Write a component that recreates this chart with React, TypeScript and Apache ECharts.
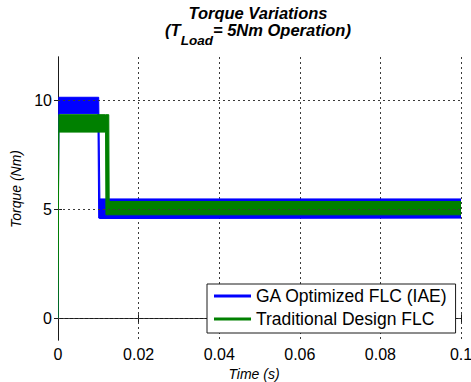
import React, { useEffect, useRef } from 'react';
import * as echarts from 'echarts';

const seriesNames = ['GA Optimized FLC (IAE)', 'Traditional Design FLC'];

// Envelope (upper / lower) of the rippling torque of each controller
const blueTime = [0, 0.0002, 0.0099, 0.0101, 0.0104, 0.1];
const blueUpper = [0, 10.15, 10.15, 10.15, 5.48, 5.48];
const blueLower = [0, 9.4, 9.4, 4.6, 4.58, 4.6];

const greenTime = [0, 0.0002, 0.0118, 0.0119, 0.0126, 0.0127, 0.1];
const greenUpper = [0, 9.35, 9.35, 9.35, 9.35, 5.36, 5.36];
const greenLower = [0, 8.55, 8.55, 4.75, 4.75, 4.75, 4.75];

const yTickValues = [0, 5, 10];
const xTickStep = 0.02;

const FONT = '"Liberation Sans", Arial, Helvetica, sans-serif';
const INK = '#000000';
const GRID = '#3a3a3a';

function bandSeries(name: string, color: string, time: number[], upper: number[], lower: number[], z: number) {
  return {
    type: 'custom',
    name,
    z,
    coordinateSystem: 'cartesian2d',
    xAxisIndex: 0,
    yAxisIndex: 0,
    clip: true,
    silent: true,
    itemStyle: { color },
    data: time.map((t, i) => [t, lower[i], upper[i]]),
    encode: { x: 0, y: [1, 2] },
    renderItem: (params: any, api: any) => {
      if (params.dataIndex !== 0) return null;
      const top = time.map((t, i) => api.coord([t, upper[i]]));
      const bottom = time.map((t, i) => api.coord([t, lower[i]])).reverse();
      return {
        type: 'polygon',
        shape: { points: top.concat(bottom) },
        style: { fill: color, stroke: color, lineWidth: 1 },
      };
    },
  };
}

export default function App() {
  const ref = useRef<HTMLDivElement>(null);
  useEffect(() => {
    if (!ref.current) return;
    const chart = echarts.init(ref.current, undefined, { renderer: 'svg' });
    const tickLabel = { color: INK, fontFamily: FONT, fontSize: 16 };
    chart.setOption({
      animation: false,
      backgroundColor: '#ffffff',
      title: {
        text: '{t|Torque Variations}\n{t|(T}{s|Load}{t|= 5Nm Operation)}',
        left: 258,
        textAlign: 'center',
        top: 4,
        padding: 0,
        textStyle: {
          rich: {
            t: { fontFamily: FONT, fontSize: 16.5, fontWeight: 'bold', fontStyle: 'italic', color: INK, lineHeight: 17, verticalAlign: 'top' },
            s: { fontFamily: FONT, fontSize: 13.5, fontWeight: 'bold', fontStyle: 'italic', color: INK, lineHeight: 13, verticalAlign: 'top', padding: [12, 0, 0, 0] },
          },
        },
      },
      legend: {
        orient: 'vertical',
        left: 207,
        top: 284,
        padding: [2, 8, 4, 7],
        itemGap: 3,
        itemWidth: 37,
        itemHeight: 3,
        icon: 'rect',
        selectedMode: false,
        borderColor: '#1a1a1a',
        borderWidth: 1,
        borderRadius: 0,
        backgroundColor: '#ffffff',
        textStyle: { color: INK, fontFamily: FONT, fontSize: 17.5, lineHeight: 20 },
        data: seriesNames.map((name) => ({ name })),
        z: 10,
      },
      grid: { left: 58, right: 10, top: 57, bottom: 42, containLabel: false, outerBoundsMode: 'none' },
      xAxis: [
        {
          type: 'value',
          position: 'bottom',
          min: 0,
          max: 0.1,
          interval: xTickStep,
          name: 'Time (s)',
          nameLocation: 'middle',
          nameGap: 23,
          nameTextStyle: { color: INK, fontFamily: FONT, fontSize: 14, fontStyle: 'italic', padding: [0, 11, 0, 0] },
          axisLine: { show: true, lineStyle: { color: '#1a1a1a', width: 1 } },
          axisTick: { show: true, inside: true, length: 4, lineStyle: { color: '#1a1a1a' } },
          axisLabel: { ...tickLabel, margin: 6, formatter: (v: number) => String(Math.round(v * 100) / 100) },
          splitLine: { show: true, lineStyle: { color: GRID, type: [2, 3], width: 1 } },
        },
        {
          type: 'value',
          position: 'top',
          min: 0,
          max: 0.1,
          interval: xTickStep,
          axisLine: { show: true, lineStyle: { color: '#1a1a1a', width: 1 } },
          axisTick: { show: true, inside: true, length: 4, lineStyle: { color: '#1a1a1a' } },
          axisLabel: { show: false },
          splitLine: { show: false },
        },
      ],
      yAxis: [
        {
          type: 'value',
          position: 'left',
          min: -1,
          max: 12,
          name: 'Torque (Nm)',
          nameLocation: 'middle',
          nameGap: 32,
          nameTextStyle: { color: INK, fontFamily: FONT, fontSize: 14, fontStyle: 'italic', padding: [0, 0, 0, 19] },
          axisLine: { show: true, lineStyle: { color: '#1a1a1a', width: 1 } },
          axisTick: { show: true, inside: true, length: 4, customValues: yTickValues, lineStyle: { color: '#1a1a1a' } },
          axisLabel: { ...tickLabel, margin: 6, customValues: yTickValues },
          splitLine: { show: false },
        },
        {
          type: 'value',
          position: 'right',
          min: -1,
          max: 12,
          axisLine: { show: true, lineStyle: { color: '#1a1a1a', width: 1 } },
          axisTick: { show: true, inside: true, length: 4, customValues: yTickValues, lineStyle: { color: '#1a1a1a' } },
          axisLabel: { show: false },
          splitLine: { show: false },
        },
      ],
      series: [
        {
          type: 'line',
          name: 'ygrid',
          data: [],
          silent: true,
          z: 1,
          markLine: {
            silent: true,
            symbol: ['none', 'none'],
            label: { show: false },
            lineStyle: { color: GRID, type: [2, 3], width: 1 },
            data: yTickValues.map((v) => ({ yAxis: v })),
          },
        },
        bandSeries(seriesNames[0], '#0000ff', blueTime, blueUpper, blueLower, 2),
        bandSeries(seriesNames[1], '#008000', greenTime, greenUpper, greenLower, 3),
      ],
    });
    return () => chart.dispose();
  }, []);
  return (
    <div
      ref={ref}
      style={{ position: 'fixed', left: 0, top: 0, width: 471, height: 382, background: '#fff' }}
    />
  );
}
